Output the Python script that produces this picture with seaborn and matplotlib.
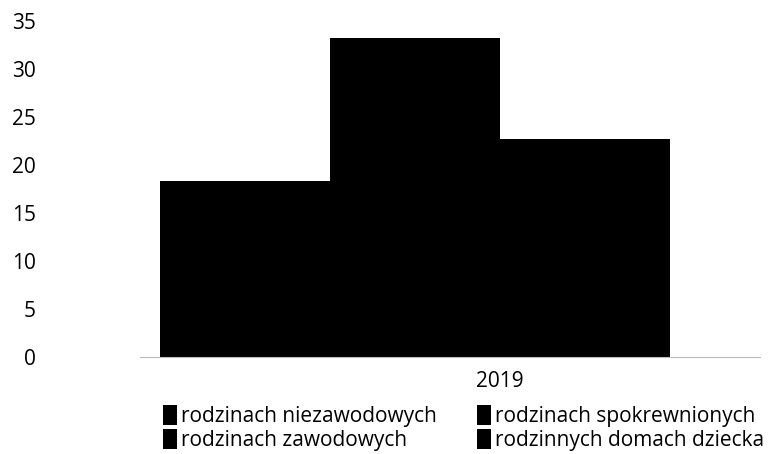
import matplotlib
matplotlib.use("Agg")
import matplotlib.pyplot as plt
import seaborn as sns
import pandas as pd

years = ["2019"]
series = ["rodzinach niezawodowych", "rodzinach spokrewnionych",
          "rodzinach zawodowych", "rodzinnych domach dziecka"]
values = [18.3, 33.2, 22.7, 0.0]
yticks = [0, 5, 10, 15, 20, 25, 30, 35]

df = pd.DataFrame({"rok": years * len(series), "forma": series, "liczba": values})

sns.set_theme(style="white")
plt.rcParams["font.family"] = ["Open Sans", "DejaVu Sans"]

fig = plt.figure(figsize=(7.7, 4.54), dpi=100)
ax = fig.add_axes([140/770, (454-357)/454, (760-140)/770, (357-21)/454])

sns.barplot(data=df, x="rok", y="liczba", hue="forma", hue_order=series,
            palette=["#000000"] * 4, saturation=1, ax=ax, legend=True,
            errorbar=None, linewidth=0)

ax.set_ylim(0, 35)
ax.set_yticks(yticks)
ax.set_xlim(-0.4235, 0.306)
ax.set_xlabel("")
ax.set_ylabel("")
for s in ["top", "right", "left"]:
    ax.spines[s].set_visible(False)
ax.spines["bottom"].set_color("#bbbbbb")
ax.spines["bottom"].set_linewidth(0.8)
ax.tick_params(axis="y", length=0, pad=75, labelsize=15, labelcolor="#000000")
ax.tick_params(axis="x", length=0, pad=10, labelsize=15, labelcolor="#000000")

handles, labels = ax.get_legend_handles_labels()
ax.get_legend().remove()
order = [0, 2, 1, 3]
fig.legend([handles[i] for i in order], [labels[i] for i in order],
           loc="upper left", bbox_to_anchor=(163/770, 1 - 405/454),
           ncol=2, frameon=False, fontsize=15, handlelength=0.65,
           handleheight=1.1, handletextpad=0.2, columnspacing=1.95,
           labelspacing=0.1, borderaxespad=0, borderpad=0,
           labelcolor="#000000")

fig.savefig("out.png", dpi=100)
